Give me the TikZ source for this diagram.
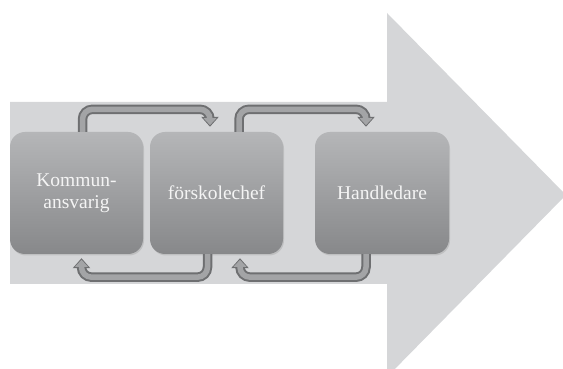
\documentclass[tikz,border=0pt]{standalone}
\usepackage{fontspec}
\setmainfont{Liberation Serif}
\usetikzlibrary{arrows.meta,shadows}
\definecolor{bandgray}{HTML}{D5D6D8}
\definecolor{boxtop}{HTML}{B5B6B8}
\definecolor{boxbottom}{HTML}{87888A}
\definecolor{boxtext}{HTML}{F4F4F4}
\definecolor{linkedge}{HTML}{6E6F71}
\definecolor{linkfill}{HTML}{A3A4A6}
\begin{document}
\begin{tikzpicture}[x=1pt,y=1pt,
    role/.style={rounded corners=15pt, minimum width=133pt, minimum height=122pt,
      top color=boxtop, bottom color=boxbottom, text=boxtext, align=center,
      font=\fontsize{19.5}{22}\selectfont,
      drop shadow={opacity=0.25, shadow xshift=1pt, shadow yshift=-1.5pt}},
    handoff/.style={draw=linkfill, line width=5.5pt, rounded corners=10pt,
      shorten >=1.6pt, -{Triangle[length=7pt,width=12.5pt]},
      preaction={draw=linkedge, line width=9.5pt, shorten >=0pt,
        -{Triangle[length=10pt,width=17pt]}}}]
    % fix the page size
    \useasboundingbox (0,0) rectangle (563,369);
    \clip (0,0) rectangle (563,369);
    % big background arrow
    \fill[bandgray] (10,267) -- (387,267) -- (387,356) -- (566,174)
      -- (387,-8) -- (387,85) -- (10,85) -- cycle;

    % define the three boxes
    \node[role] (kom) at (76.5,176) {Kommun-\\ansvarig};
    \node[role] (fsk) at (216.5,176) {förskolechef};
    \node[role, minimum width=134pt] (hand) at (382,176) {Handledare};

    % connectors over the top
    \draw[handoff] ([xshift=6pt]kom.north) -- ++(0,22.5)
      -| ([xshift=-6.5pt,yshift=5pt]fsk.north);
    \draw[handoff] ([xshift=22.5pt]fsk.north) -- ++(0,22.5)
      -| ([xshift=-16pt,yshift=5pt]hand.north);
    % connectors underneath
    \draw[handoff] ([xshift=-9pt]fsk.south) -- ++(0,-23)
      -| ([xshift=5pt,yshift=-4pt]kom.south);
    \draw[handoff] ([xshift=-16pt]hand.south) -- ++(0,-23)
      -| ([xshift=23.5pt,yshift=-4pt]fsk.south);
\end{tikzpicture}
\end{document}
